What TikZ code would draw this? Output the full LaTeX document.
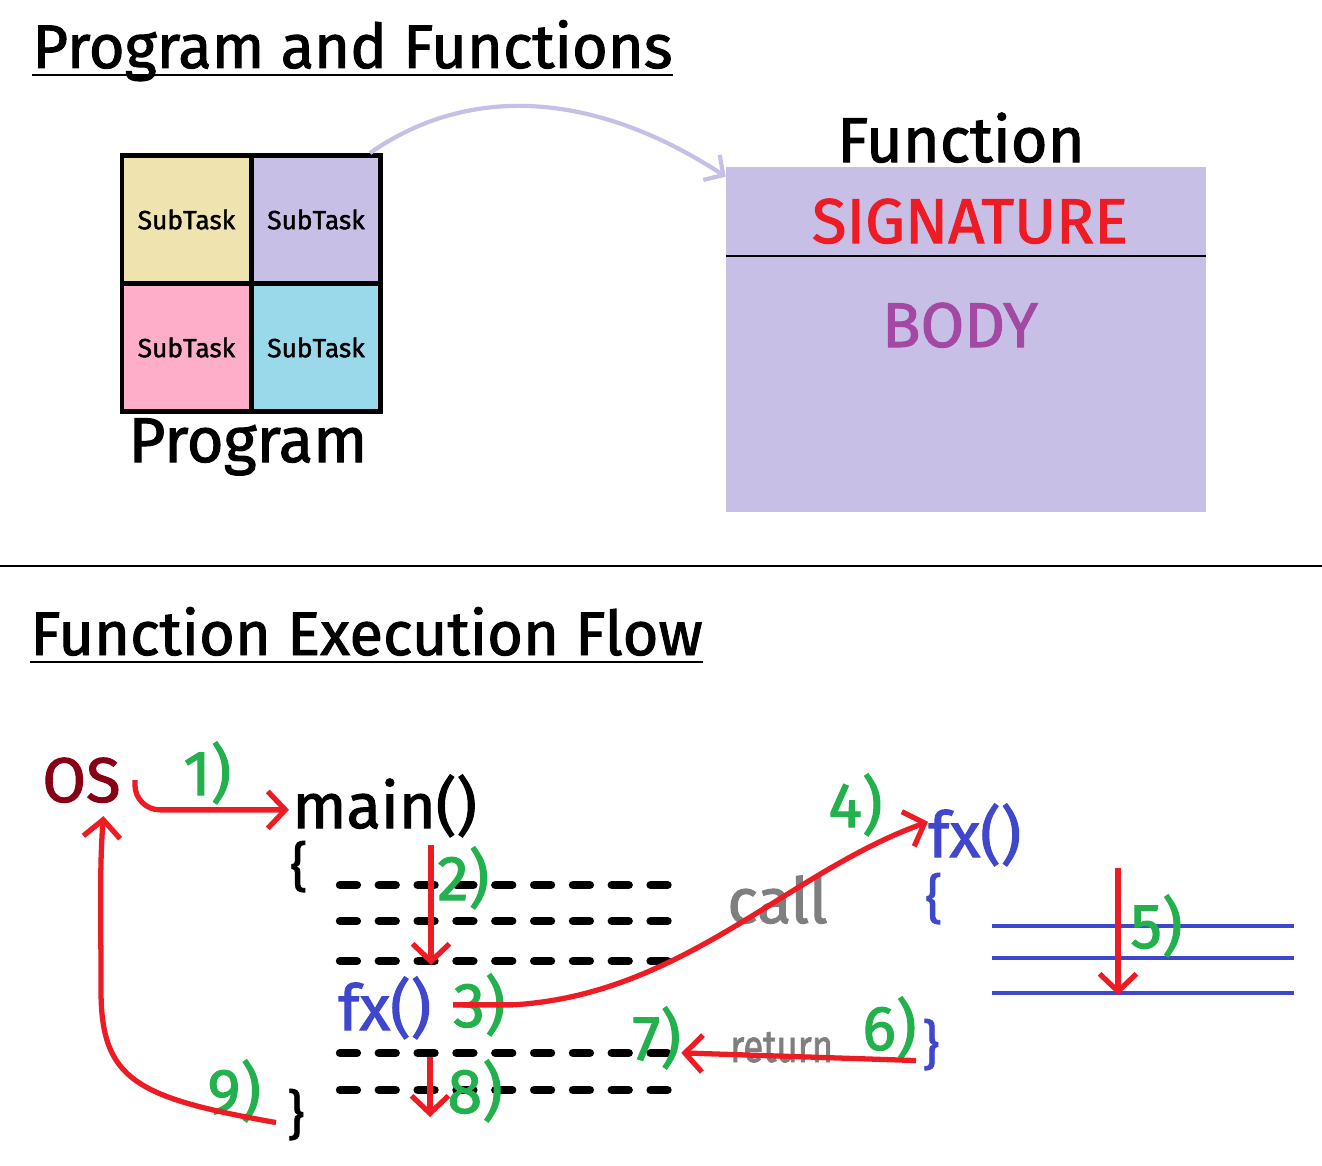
\documentclass[tikz,border=0pt]{standalone}
\usepackage{fontspec}
\setmainfont{Fira Sans}[FakeBold=1.6]
\usetikzlibrary{arrows.meta,positioning}
\definecolor{pntred}{RGB}{237,28,36}
\definecolor{pntgreen}{RGB}{34,177,76}
\definecolor{pntblue}{RGB}{63,72,204}
\definecolor{pntmaroon}{RGB}{136,0,21}
\definecolor{pntpurple}{RGB}{163,73,164}
\definecolor{pntlav}{RGB}{200,191,231}
\definecolor{pntkhaki}{RGB}{239,228,176}
\definecolor{pntpink}{RGB}{255,174,201}
\definecolor{pntsky}{RGB}{153,217,234}
\definecolor{pntgray}{RGB}{127,127,127}

\begin{document}
\begin{tikzpicture}[x=0.02cm, y=-0.02cm,
    big/.style={inner sep=0pt, anchor=base west, font=\fontsize{36}{40}\selectfont},
    heading/.style={big, font=\fontsize{35}{40}\selectfont},
    cell/.style={draw, line width=2.8pt, minimum width=2.58cm, minimum height=2.56cm, inner sep=0pt, font=\fontsize{15}{18}\selectfont},
    numlbl/.style={big, text=pntgreen},
    brace/.style={big, font=\fontsize{30}{34}\selectfont},
    flow/.style={pntred, line width=3pt, -{Straight Barb[length=10pt,width=21pt]}},
    dashrow/.style={line width=4.8pt, line cap=round, dash pattern=on 9.6pt off 12.5pt},
    stackline/.style={pntblue, line width=2.8pt}
  ]
  \useasboundingbox (0,0) rectangle (1322,1166);

  % Program and Functions
  \node[heading] (title1) at (32,68) {Program and Functions};
  \draw[line width=1.7pt] ([yshift=-0.14cm]title1.base west) -- ([yshift=-0.14cm]title1.base east);

  \node[cell, fill=pntkhaki] (taskA) at (186.5,219.5) {SubTask};
  \node[cell, fill=pntlav]   (taskB) at (316,219.5)   {SubTask};
  \node[cell, fill=pntpink]  (taskC) at (186.5,347.5) {SubTask};
  \node[cell, fill=pntsky]   (taskD) at (316,347.5)   {SubTask};
  \node[big, anchor=base] (prog) at (248,462) {Program};

  \node[fill=pntlav, minimum width=9.6cm, minimum height=6.9cm, inner sep=0pt] (fnbox) at (966,339.5) {};
  \coordinate (sigline) at (0,256);
  \draw[line width=1.7pt] (fnbox.west |- sigline) -- (fnbox.east |- sigline);
  \node[big, anchor=base] (fnlabel) at (961,162) {Function};
  \node[big, anchor=base, text=pntred] (sig) at (970,243) {SIGNATURE};
  \node[big, anchor=base, text=pntpurple] (body) at (960,347) {BODY};

  \draw[pntlav, line width=2.4pt, -{Straight Barb[length=8pt,width=17pt]}]
    ([xshift=-0.26cm]taskB.north east) .. controls +(100,-70) and +(-130,-85) .. ([yshift=-0.2cm]fnbox.north west);

  \draw[line width=1.7pt] (0,566) -- (1322,566);

  % Function Execution Flow
  \node[heading] (title2) at (30,655) {Function Execution Flow};
  \draw[line width=1.7pt] ([yshift=-0.14cm]title2.base west) -- ([yshift=-0.14cm]title2.base east);

  \node[big, text=pntmaroon] (os) at (42,802) {OS};
  \node[big] (mainfn) at (292,828) {main()};
  \node[brace] (lbrace1) at (290,885) {\{};
  \node[brace] (rbrace1) at (287,1133) {\}};
  \node[big, text=pntblue] (fxa) at (338,1030) {fx()};

  \foreach \y in {885,921,961,1053,1090}
    \draw[dashrow] (340,\y) -- (668,\y);

  \node[big, text=pntblue] (fxb) at (928,857) {fx()};
  \node[brace, text=pntblue] (lbrace2) at (925,917) {\{};
  \node[brace, text=pntblue] (rbrace2) at (922,1063) {\}};
  \foreach \y in {926,958,993}
    \draw[stackline] (992,\y) -- (1294,\y);

  \node[big, text=pntgray] (calltxt) at (727,923) {call};
  \node[big, text=pntgray, font=\fontsize{26}{30}\selectfont, xscale=0.8] (rettxt) at (730,1062) {return};

  \node[numlbl] (lbl1) at (183,795) {1)};
  \node[numlbl] (lbl2) at (437,900) {2)};
  \node[numlbl] (lbl3) at (453,1027) {3)};
  \node[numlbl] (lbl4) at (828,827) {4)};
  \node[numlbl] (lbl5) at (1130,948) {5)};
  \node[numlbl] (lbl6) at (862,1050) {6)};
  \node[numlbl] (lbl7) at (632,1060) {7)};
  \node[numlbl] (lbl8) at (447,1113) {8)};
  \node[numlbl] (lbl9) at (207,1113) {9)};

  \coordinate (s2top) at (431,845);
  \coordinate (s2bot) at (431,965);
  \coordinate (s5top) at (1118,868);
  \coordinate (s5bot) at (1118,995);
  \coordinate (s8top) at (430,1057);
  \coordinate (s8bot) at (430,1117);

  \draw[flow, rounded corners=0.5cm] ([xshift=0.28cm]os.east) |- ([xshift=-0.06cm,yshift=-0.08cm]mainfn.west);
  \draw[flow] (s2top) -- (s2bot);
  \draw[flow] (lbl3.west) -- +(60,0) .. controls +(170,-10) and +(-140,50) .. ([yshift=0.26cm]fxb.west);
  \draw[flow] (s5top) -- (s5bot);
  \draw[flow] ([xshift=-0.12cm,yshift=-0.32cm]rbrace2.west) -- ([yshift=-0.3cm]lbl7.east);
  \draw[flow] (s8top) -- (s8bot);
  \draw[flow] ([xshift=-0.22cm,yshift=-0.16cm]rbrace1.west) .. controls +(-140,-25) and +(0,90) .. (101,990)
    .. controls +(0,-80) and +(-4,50) .. ([xshift=0.44cm,yshift=-0.26cm]os.south);
\end{tikzpicture}
\end{document}
